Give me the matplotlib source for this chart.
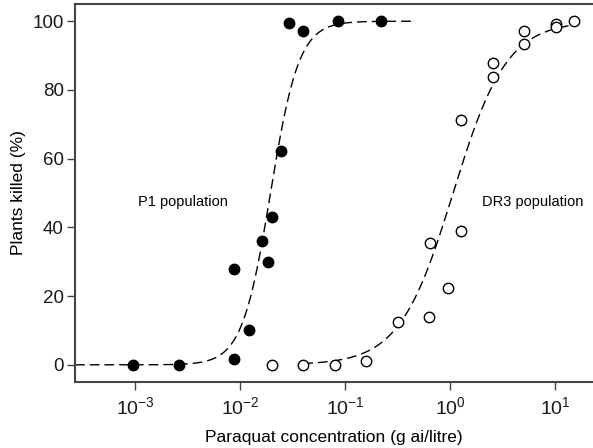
import numpy as np
import matplotlib
matplotlib.use("Agg")
import matplotlib.pyplot as plt
from matplotlib.ticker import LogLocator, NullLocator

plt.rcParams['font.family'] = ['Liberation Sans', 'DejaVu Sans']
plt.rcParams['mathtext.fontset'] = 'custom'
plt.rcParams['mathtext.rm'] = 'Liberation Sans'
plt.rcParams['mathtext.it'] = 'Liberation Sans:italic'

# P1 population (filled circles)
p1_dose = [0.00095, 0.0026, 0.0087, 0.0087, 0.0122, 0.0163, 0.0185, 0.0202,
           0.0245, 0.0293, 0.0398, 0.0857, 0.22]
p1_kill = [0, 0, 1.7, 28, 10.2, 36, 30, 43, 62.2, 99.4, 97.1, 100, 100]

# DR3 population (open circles)
dr3_dose = [0.0202, 0.0398, 0.080, 0.158, 0.32, 0.63, 0.957, 0.645, 1.27,
            1.27, 2.57, 2.57, 5.07, 5.07, 10.2, 10.2, 15.1]
dr3_kill = [0, 0, 0, 1.2, 12.5, 14, 22.4, 35.5, 39,
            71.2, 83.7, 87.8, 97.1, 93.3, 99.1, 98.2, 100]

# fitted log-logistic curves: (ED50, slope, dose range)
p1_ed50, p1_slope = 0.0195, 3.2
dr3_ed50, dr3_slope = 1.07, 1.7
p1_range = (2.68e-4, 0.46)
dr3_range = (0.04, 15.1)


def loglogistic(x, ed50, slope):
    return 100.0 / (1.0 + (ed50 / x) ** slope)


fig = plt.figure(figsize=(5.93, 4.48), dpi=100)
ax = fig.add_axes([0.1265, 0.1473, 0.8735, 0.8437])

xa = np.logspace(np.log10(p1_range[0]), np.log10(p1_range[1]), 300)
ax.plot(xa, loglogistic(xa, p1_ed50, p1_slope), color='black', lw=1.0,
        dashes=(7, 3.6), zorder=1)
xb = np.logspace(np.log10(dr3_range[0]), np.log10(dr3_range[1]), 300)
ax.plot(xb, loglogistic(xb, dr3_ed50, dr3_slope), color='black', lw=1.0,
        dashes=(7, 3.6), zorder=1)

ax.plot(p1_dose, p1_kill, 'o', color='black', ms=7.5, zorder=3)
ax.plot(dr3_dose, dr3_kill, 'o', mfc='white', mec='black', mew=1.0, ms=7.5,
        zorder=3)

ax.set_xscale('log')
ax.set_xlim(2.68e-4, 23.0)
ax.set_ylim(-5, 105)
ax.xaxis.set_major_locator(LogLocator(base=10, numticks=10))
ax.xaxis.set_minor_locator(NullLocator())
ax.set_yticks([0, 20, 40, 60, 80, 100])

ax.spines['right'].set_visible(False)
for s in ['left', 'bottom', 'top']:
    ax.spines[s].set_linewidth(1.5)
    ax.spines[s].set_color('#444444')
ax.tick_params(axis='both', length=6, width=1.0, color='#444444',
               labelcolor='#1a1a1a')
ax.tick_params(axis='y', labelsize=13.5, pad=2)
ax.tick_params(axis='x', labelsize=14, pad=4)

ax.text(0.00287, 47.4, 'P1 population', fontsize=10.5, ha='center', va='center')
ax.text(6.17, 47.4, 'DR3 population', fontsize=10.5, ha='center', va='center')

ax.set_xlabel('Paraquat concentration (g ai/litre)', fontsize=12.5, labelpad=9)
ax.set_ylabel('Plants killed (%)', fontsize=12.5, labelpad=5)

fig.savefig('out.png', dpi=100)
